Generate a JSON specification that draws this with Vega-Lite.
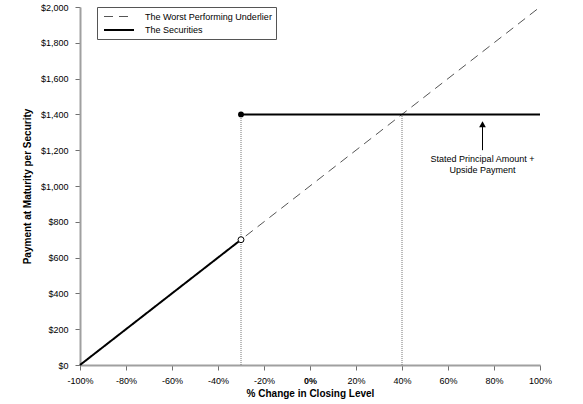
{
  "$schema": "https://vega.github.io/schema/vega-lite/v6.json",
  "width": 460,
  "height": 358,
  "autosize": {"type": "none"},
  "padding": {"left": 80, "top": 7, "right": 43, "bottom": 39},
  "background": "white",
  "config": {
    "view": {"stroke": null},
    "font": "Liberation Sans",
    "axis": {
      "grid": false,
      "domainColor": "#a0a0a0",
      "domainWidth": 2,
      "tickColor": "#707070",
      "tickSize": 5,
      "labelFontSize": 9,
      "labelColor": "#000000",
      "labelFlush": false,
      "titleFontSize": 10,
      "titleFontWeight": "bold",
      "titleColor": "#000000"
    }
  },
  "datasets": {
    "lines": [
      {"pct": -100, "pay": 0, "series": "The Worst Performing Underlier", "seg": "u"},
      {"pct": 100, "pay": 2000, "series": "The Worst Performing Underlier", "seg": "u"},
      {"pct": -100, "pay": 0, "series": "The Securities", "seg": "a"},
      {"pct": -30, "pay": 700, "series": "The Securities", "seg": "a"},
      {"pct": -30, "pay": 1400, "series": "The Securities", "seg": "b"},
      {"pct": 100, "pay": 1400, "series": "The Securities", "seg": "b"}
    ],
    "guides": [
      {"pct": -30, "base": 0, "pay": 1400},
      {"pct": 40, "base": 0, "pay": 1400}
    ]
  },
  "encoding": {
    "x": {
      "field": "pct",
      "type": "quantitative",
      "scale": {"domain": [-100, 100], "nice": false},
      "axis": {
        "values": [-100, -80, -60, -40, -20, 0, 20, 40, 60, 80, 100],
        "labelExpr": "datum.value + '%'",
        "labelFontWeight": {"condition": {"test": "datum.value === 0", "value": "bold"}, "value": "normal"},
        "labelPadding": 6,
        "title": "% Change in Closing Level",
        "titlePadding": 3
      }
    },
    "y": {
      "field": "pay",
      "type": "quantitative",
      "scale": {"domain": [0, 2000], "nice": false},
      "axis": {
        "values": [0, 200, 400, 600, 800, 1000, 1200, 1400, 1600, 1800, 2000],
        "format": "$,.0f",
        "labelPadding": 7,
        "title": "Payment at Maturity per Security",
        "titlePadding": 8
      }
    }
  },
  "layer": [
    {
      "data": {"name": "guides"},
      "mark": {"type": "rule", "strokeDash": [1, 1], "color": "#777777", "strokeWidth": 1},
      "encoding": {
        "y": {"field": "base", "type": "quantitative"},
        "y2": {"field": "pay"}
      }
    },
    {
      "data": {"name": "lines"},
      "mark": {"type": "line"},
      "encoding": {
        "detail": {"field": "seg", "type": "nominal"},
        "color": {
          "field": "series",
          "type": "nominal",
          "scale": {
            "domain": ["The Worst Performing Underlier", "The Securities"],
            "range": ["#555555", "#000000"]
          },
          "legend": {
            "title": null,
            "orient": "none",
            "legendX": 17,
            "legendY": 0,
            "symbolType": "M-3,0H3",
            "symbolSize": 100,
            "symbolStrokeWidth": 1.5,
            "symbolOffset": 12,
            "labelFontSize": 9,
            "labelColor": "#000000",
            "rowPadding": 2,
            "padding": 4,
            "strokeColor": "#555555",
            "fillColor": "white",
            "labelOffset": 20
          }
        },
        "strokeDash": {
          "field": "series",
          "type": "nominal",
          "scale": {
            "domain": ["The Worst Performing Underlier", "The Securities"],
            "range": [[9, 6], [1, 0]]
          },
          "legend": null
        },
        "strokeWidth": {
          "field": "series",
          "type": "nominal",
          "scale": {
            "domain": ["The Worst Performing Underlier", "The Securities"],
            "range": [1, 2]
          },
          "legend": null
        }
      }
    },
    {
      "data": {"values": [{"pct": -30, "pay": 1400}]},
      "mark": {"type": "point", "filled": true, "color": "black", "size": 35, "opacity": 1}
    },
    {
      "data": {"values": [{"pct": -30, "pay": 700}]},
      "mark": {"type": "point", "filled": true, "fill": "white", "stroke": "black", "strokeWidth": 1, "size": 35, "opacity": 1}
    },
    {
      "data": {"values": [{"pct": 75, "pay": 1200, "to": 1330}]},
      "mark": {"type": "rule", "color": "black", "strokeWidth": 1},
      "encoding": {
        "y2": {"field": "to"}
      }
    },
    {
      "data": {"values": [{"pct": 75, "pay": 1345}]},
      "mark": {"type": "point", "shape": "triangle-up", "filled": true, "color": "black", "size": 45, "opacity": 1}
    },
    {
      "data": {"values": [{"pct": 75, "pay": 1175, "label": ["Stated Principal Amount +", "Upside Payment"]}]},
      "mark": {"type": "text", "align": "center", "baseline": "top", "fontSize": 9, "lineHeight": 11, "color": "black"},
      "encoding": {
        "text": {"field": "label"}
      }
    }
  ]
}
